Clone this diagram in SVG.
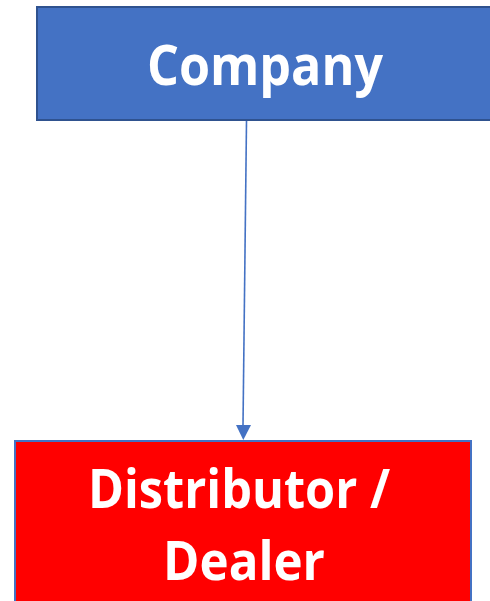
<svg xmlns="http://www.w3.org/2000/svg" width="490" height="601" viewBox="0 0 490 601">
  <style>
    .label { font-family: "Open Sans", "Liberation Sans", Arial, sans-serif; font-weight: bold; fill: #FFFFFF; text-anchor: middle; }
    .edge { stroke: #4472C4; stroke-width: 1.6; fill: none; }
  </style>
  <rect width="490" height="601" fill="#FFFFFF"/>

  <g id="connectors">
    <line class="edge" x1="246.5" y1="121" x2="243" y2="426"/>
    <path d="M236,425 L251,425 L243.3,440 Z" fill="#4472C4"/>
  </g>

  <g id="company">
    <rect x="37" y="7" width="460" height="113" fill="#4472C4" stroke="#2F528F" stroke-width="2"/>
    <text class="label" x="265" y="85" font-size="55" textLength="236" lengthAdjust="spacingAndGlyphs">Company</text>
  </g>

  <g id="distributor">
    <rect x="15" y="441" width="456" height="170" fill="#FF0000" stroke="#4472C4" stroke-width="2"/>
    <text class="label" x="239" y="508" font-size="54" textLength="302" lengthAdjust="spacingAndGlyphs">Distributor /</text>
    <text class="label" x="244" y="580" font-size="54" textLength="162" lengthAdjust="spacingAndGlyphs">Dealer</text>
  </g>
</svg>
